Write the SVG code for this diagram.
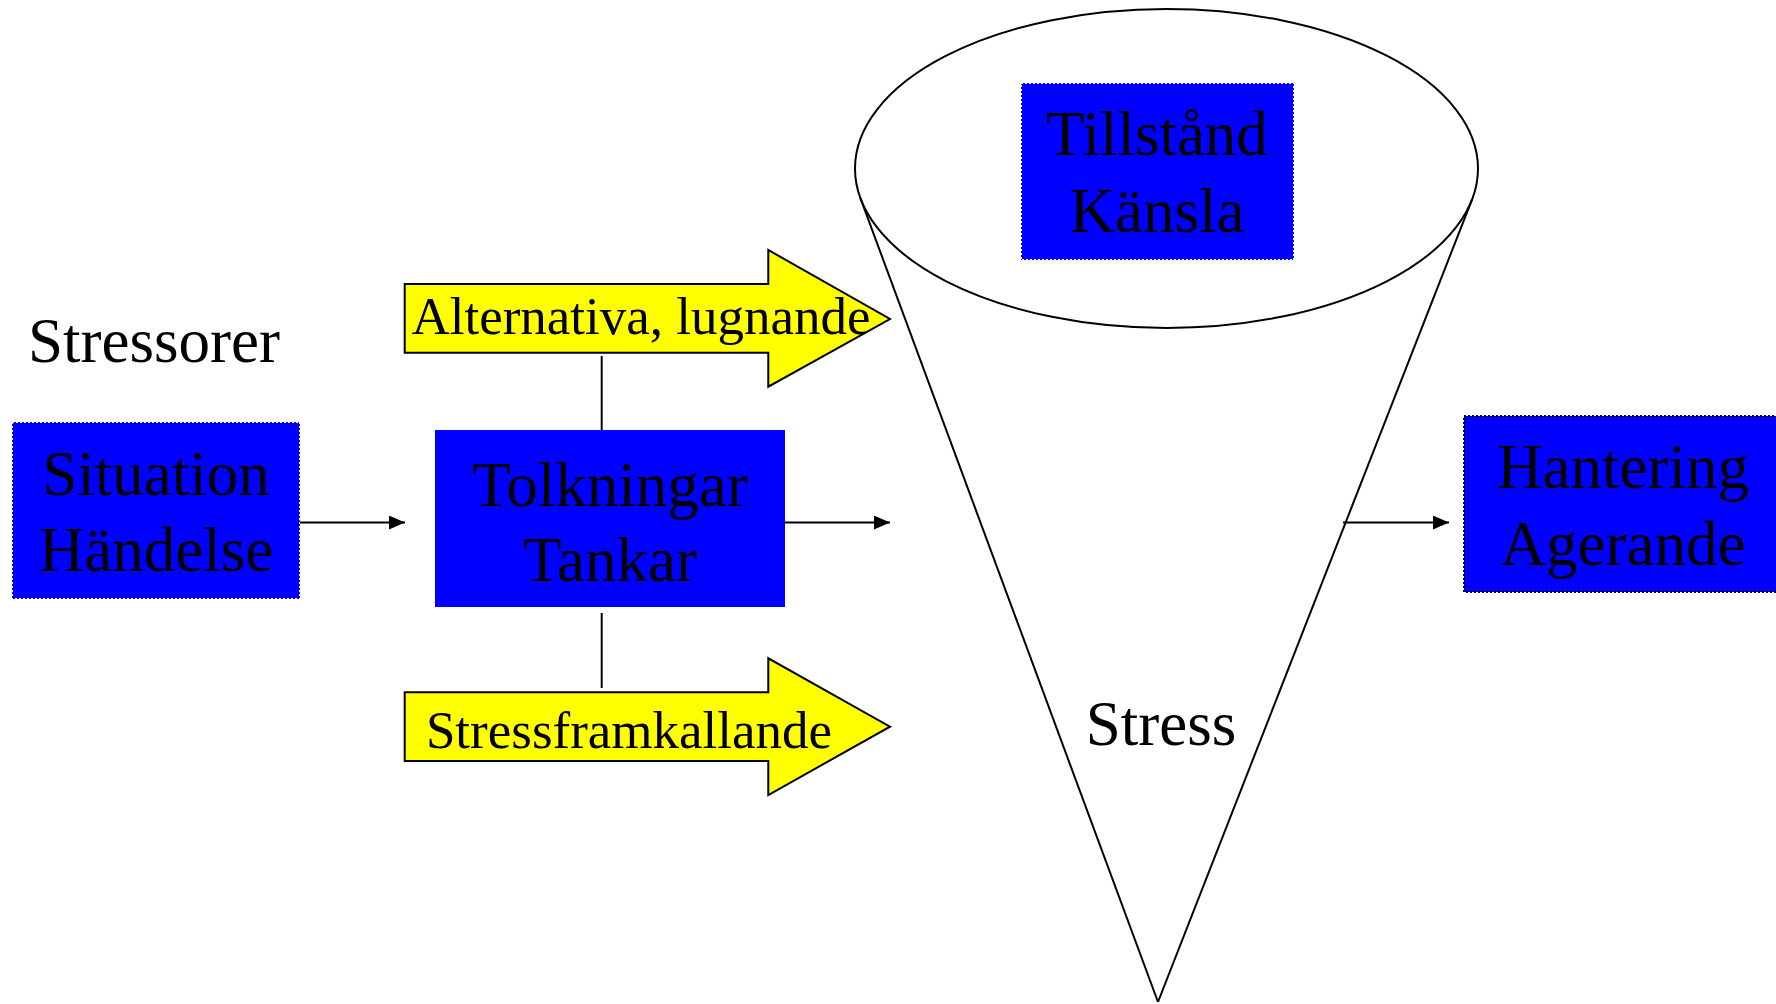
<svg xmlns="http://www.w3.org/2000/svg" width="1776" height="1004" viewBox="0 0 1776 1004">
<style>
.t{font-family:"Liberation Serif","Times New Roman",serif;fill:#000;text-anchor:middle}
.big{font-size:63px}
.mid{font-size:53px}
.box{fill:#0000ff}
.dot{fill:#0000ff;stroke:#ffffff;stroke-width:2;stroke-dasharray:2 2}
.dotk{fill:#0000ff;stroke:#000;stroke-width:2;stroke-dasharray:2 2}
.ln{stroke:#000;stroke-width:2;fill:none}
.ya{fill:#ffff00;stroke:#000;stroke-width:2}
</style>
<defs>
<marker id="ah" markerWidth="10" markerHeight="10" refX="10" refY="5" orient="auto" markerUnits="userSpaceOnUse" viewBox="0 0 10 10">
<path d="M0,0 L10,5 L0,10 Z" fill="#000"/>
</marker>
<marker id="ah2" markerWidth="16" markerHeight="14" refX="16" refY="7" orient="auto" markerUnits="userSpaceOnUse" viewBox="0 0 16 14">
<path d="M0,0 L16,7 L0,14 Z" fill="#000"/>
</marker>
</defs>
<rect width="1776" height="1004" fill="#fff"/>

<g id="cone">
<ellipse cx="1166.5" cy="168.5" rx="311.5" ry="159.5" fill="#fff" stroke="#000" stroke-width="2"/>
<line x1="860.4" y1="198.2" x2="1158" y2="1002" class="ln"/>
<line x1="1471.9" y1="199.8" x2="1158" y2="1002" class="ln"/>
<text class="t big" x="1161" y="745">Stress</text>
</g>

<g id="stressorer">
<text class="t big" x="154" y="362">Stressorer</text>
</g>

<g id="situation">
<rect class="dot" x="12" y="422" width="288" height="177"/>
<text class="t big" x="156" y="495">Situation</text>
<text class="t big" x="156" y="571">Händelse</text>
</g>

<g id="tolkningar">
<rect class="box" x="435" y="430" width="350" height="177"/>
<text class="t big" x="610" y="506">Tolkningar</text>
<text class="t big" x="610" y="581">Tankar</text>
</g>

<g id="alternativa">
<polygon class="ya" points="404.7,284 768.3,284 768.3,250 890,319 768.3,386.7 768.3,352.7 404.7,352.7"/>
<text class="t mid" x="641" y="334">Alternativa, lugnande</text>
</g>

<g id="stressframkallande">
<polygon class="ya" points="404.7,692.3 768.3,692.3 768.3,658.3 890,726.7 768.3,795 768.3,761 404.7,761"/>
<text class="t mid" x="629" y="748">Stressframkallande</text>
</g>

<g id="tillstand">
<rect class="dot" x="1021" y="83" width="273" height="177"/>
<text class="t big" x="1157" y="155">Tillstånd</text>
<text class="t big" x="1157" y="232">Känsla</text>
</g>

<g id="hantering">
<rect class="dotk" x="1464" y="416" width="320" height="176"/>
<text class="t big" x="1623" y="488">Hantering</text>
<text class="t big" x="1623" y="565">Agerande</text>
</g>

<g id="connectors">
<line x1="300" y1="522.5" x2="405" y2="522.5" class="ln" marker-end="url(#ah2)"/>
<line x1="785" y1="522.5" x2="890" y2="522.5" class="ln" marker-end="url(#ah2)"/>
<line x1="1343" y1="522.5" x2="1449" y2="522.5" class="ln" marker-end="url(#ah2)"/>
<line x1="601.7" y1="356" x2="601.7" y2="430" class="ln"/>
<line x1="601.7" y1="613" x2="601.7" y2="688" class="ln"/>
</g>
</svg>
